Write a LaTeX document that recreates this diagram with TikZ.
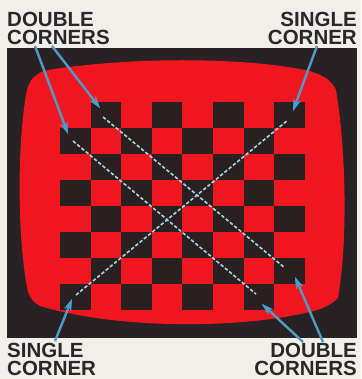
\documentclass[tikz,border=0pt]{standalone}
\usepackage{fontspec}
\setmainfont{Liberation Sans}
\usetikzlibrary{arrows.meta}
\definecolor{bgc}{RGB}{242,239,232}
\definecolor{framec}{RGB}{40,34,36}
\definecolor{screenc}{RGB}{240,22,32}
\definecolor{sqc}{RGB}{42,32,34}
\definecolor{arrc}{RGB}{62,160,215}
\definecolor{arredge}{RGB}{120,140,160}
\definecolor{txtc}{RGB}{40,40,44}
\definecolor{dashc}{RGB}{165,215,228}
\tikzset{
  lbl/.style={inner sep=0pt, text=txtc, font=\bfseries\fontsize{20.5}{18}\selectfont},
  pointer/.style={arrc, line width=1.5pt, -{Stealth[length=11pt,width=6.5pt]},
    preaction={draw=arredge, line width=2.4pt, -{Stealth[length=12pt,width=7.5pt]}}},
  diag/.style={dashc, line width=1.6pt, dash pattern=on 3.5pt off 2pt},
}
\begin{document}
\begin{tikzpicture}[x=1pt,y=-1pt]
\useasboundingbox (0,0) rectangle (361,379);
\fill[bgc] (0,0) rectangle (361,379);
% dark frame
\fill[framec] (7,48) rectangle (357,338);
% red screen
\fill[screenc] (48,70) .. controls (130,57) and (240,57) .. (305,70)
  .. controls (320,73) and (332,80) .. (336,90)
  .. controls (346,150) and (348,240) .. (338,298)
  .. controls (330,306) and (320,310) .. (305,313)
  .. controls (240,328) and (120,330) .. (40,306)
  .. controls (34,303) and (30,298) .. (28,292)
  .. controls (17,240) and (17,140) .. (27,90)
  .. controls (30,78) and (38,72) .. (48,70) -- cycle;
% checkerboard
\foreach \i in {0,...,7}{
  \foreach \j in {0,...,7}{
    \pgfmathtruncatemacro{\myparity}{mod(\i+\j,2)}
    \ifnum\myparity=1
      \fill[sqc] ({60+30.6*\i},{102+26*\j}) rectangle ++(30.6,26);
    \fi
  }
}
% diagonal coordinates
\coordinate (d1a) at (103,117);
\coordinate (d1b) at (285,268);
\coordinate (d2a) at (73,141);
\coordinate (d2b) at (256,294);
\coordinate (s1a) at (76,295);
\coordinate (s1b) at (288,120);
\draw[diag] (d1a) -- (d1b);
\draw[diag] (d2a) -- (d2b);
\draw[diag] (s1a) -- (s1b);
% labels
\node[lbl, anchor=base west] (tl1) at (7,27) {DOUBLE};
\node[lbl, anchor=base west] (tl2) at (7,45) {CORNERS};
\node[lbl, anchor=base east] (tr1) at (357,27) {SINGLE};
\node[lbl, anchor=base east] (tr2) at (357,45) {CORNER};
\node[lbl, anchor=base west] (bl1) at (7,357) {SINGLE};
\node[lbl, anchor=base west] (bl2) at (7,375) {CORNER};
\node[lbl, anchor=base east] (br1) at (357,357) {DOUBLE};
\node[lbl, anchor=base east] (br2) at (357,375) {CORNERS};
% arrow endpoints
\coordinate (a1s) at (35,46);
\coordinate (a1t) at (68,134);
\coordinate (a2s) at (52,46);
\coordinate (a2t) at (100,108);
\coordinate (a3s) at (317,46);
\coordinate (a3t) at (293,111);
\coordinate (a4s) at (55,341);
\coordinate (a4t) at (72,299);
\coordinate (a5s) at (303,342);
\coordinate (a5t) at (262,304);
\coordinate (a6s) at (323,342);
\coordinate (a6t) at (295,277);
\draw[pointer] (a1s) -- (a1t);
\draw[pointer] (a2s) -- (a2t);
\draw[pointer] (a3s) -- (a3t);
\draw[pointer] (a4s) -- (a4t);
\draw[pointer] (a5s) -- (a5t);
\draw[pointer] (a6s) -- (a6t);
\end{tikzpicture}
\end{document}
